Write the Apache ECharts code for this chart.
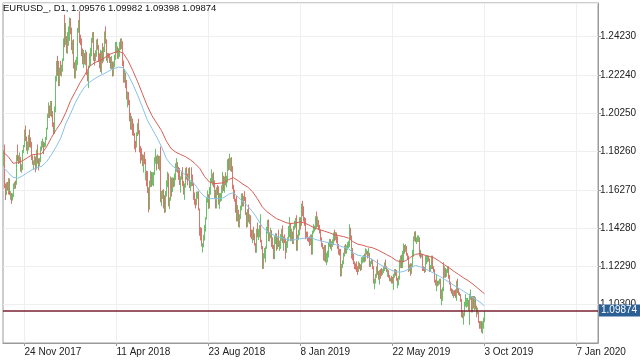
<!DOCTYPE html>
<html>
<head>
<meta charset="utf-8">
<script src="https://cdn.jsdelivr.net/npm/echarts@6/dist/echarts.min.js"></script>
<style>html,body{margin:0;padding:0;background:#fff;}#c{width:640px;height:360px;}</style>
</head>
<body>
<div id="c"></div>
<script>
// EURUSD daily bars, 25 Oct 2017 .. 3 Oct 2019 (bar index 0..502)
const firstOpen = 1.1762;
const closes = [
1.1813,1.1652,1.1608,1.1650,1.1645,1.1620,1.1658,1.1607,1.1610,1.1589,
1.1592,1.1652,1.1664,1.1663,1.1795,1.1792,1.1770,1.1790,1.1736,1.1736,
1.1825,1.1853,1.1932,1.1897,1.1845,1.1845,1.1903,1.1895,1.1866,1.1822,
1.1797,1.1771,1.1772,1.1784,1.1743,1.1824,1.1777,1.1750,1.1782,1.1840,
1.1870,1.1873,1.1856,1.1862,1.1889,1.1944,1.2005,1.2059,1.2016,1.2067,
1.2030,1.1967,1.1937,1.1947,1.2032,1.2199,1.2263,1.2262,1.2186,1.2238,
1.2222,1.2262,1.2298,1.2408,1.2396,1.2426,1.2383,1.2412,1.2414,1.2512,
1.2462,1.2367,1.2377,1.2265,1.2252,1.2252,1.2292,1.2353,1.2449,1.2505,
1.2407,1.2406,1.2338,1.2285,1.2325,1.2297,1.2318,1.2232,1.2194,1.2270,
1.2317,1.2335,1.2405,1.2410,1.2311,1.2310,1.2335,1.2390,1.2368,1.2303,
1.2290,1.2336,1.2240,1.2340,1.2300,1.2354,1.2443,1.2400,1.2310,1.2323,
1.2320,1.2303,1.2271,1.2276,1.2237,1.2281,1.2318,1.2356,1.2367,1.2325,
1.2330,1.2385,1.2372,1.2373,1.2348,1.2288,1.2210,1.2232,1.2165,1.2100,
1.2130,1.2078,1.1992,1.1951,1.1988,1.1960,1.1922,1.1864,1.1849,1.1917,
1.1940,1.1927,1.1836,1.1808,1.1797,1.1767,1.1792,1.1780,1.1696,1.1722,
1.1656,1.1626,1.1535,1.1665,1.1693,1.1658,1.1693,1.1718,1.1774,1.1800,
1.1767,1.1785,1.1745,1.1793,1.1570,1.1609,1.1624,1.1573,1.1570,1.1599,
1.1655,1.1705,1.1657,1.1553,1.1570,1.1684,1.1637,1.1657,1.1655,1.1689,
1.1748,1.1749,1.1742,1.1740,1.1670,1.1684,1.1710,1.1658,1.1640,1.1640,
1.1718,1.1694,1.1684,1.1729,1.1644,1.1658,1.1707,1.1691,1.1658,1.1586,
1.1568,1.1553,1.1599,1.1610,1.1526,1.1410,1.1408,1.1345,1.1345,1.1375,
1.1437,1.1480,1.1570,1.1596,1.1539,1.1620,1.1680,1.1700,1.1705,1.1670,
1.1600,1.1620,1.1585,1.1628,1.1625,1.1555,1.1595,1.1600,1.1625,1.1690,
1.1627,1.1685,1.1665,1.1672,1.1778,1.1747,1.1748,1.1765,1.1738,1.1640,
1.1604,1.1577,1.1545,1.1475,1.1512,1.1523,1.1490,1.1490,1.1525,1.1593,
1.1560,1.1580,1.1578,1.1500,1.1450,1.1513,1.1467,1.1473,1.1390,1.1375,
1.1403,1.1373,1.1345,1.1312,1.1408,1.1387,1.1407,1.1428,1.1430,1.1362,
1.1335,1.1230,1.1288,1.1310,1.1327,1.1415,1.1456,1.1370,1.1390,1.1403,
1.1335,1.1330,1.1290,1.1370,1.1394,1.1318,1.1350,1.1340,1.1340,1.1375,
1.1380,1.1355,1.1318,1.1370,1.1365,1.1305,1.1347,1.1363,1.1380,1.1445,
1.1370,1.1400,1.1353,1.1435,1.1440,1.1467,1.1345,1.1392,1.1395,1.1475,
1.1443,1.1540,1.1500,1.1470,1.1468,1.1410,1.1395,1.1390,1.1365,1.1363,
1.1360,1.1385,1.1300,1.1410,1.1430,1.1430,1.1480,1.1445,1.1455,1.1437,
1.1406,1.1365,1.1340,1.1325,1.1275,1.1327,1.1260,1.1295,1.1295,1.1310,
1.1340,1.1345,1.1335,1.1335,1.1360,1.1395,1.1370,1.1370,1.1365,1.1340,
1.1308,1.1307,1.1193,1.1235,1.1247,1.1288,1.1330,1.1305,1.1325,1.1340,
1.1350,1.1415,1.1375,1.1300,1.1312,1.1265,1.1250,1.1220,1.1217,1.1215,
1.1205,1.1235,1.1224,1.1217,1.1263,1.1263,1.1275,1.1255,1.1300,1.1305,
1.1285,1.1295,1.1235,1.1245,1.1258,1.1225,1.1150,1.1132,1.1148,1.1183,
1.1215,1.1195,1.1172,1.1200,1.1195,1.1190,1.1195,1.1215,1.1235,1.1225,
1.1205,1.1205,1.1175,1.1157,1.1165,1.1160,1.1150,1.1180,1.1205,1.1192,
1.1160,1.1130,1.1132,1.1170,1.1240,1.1255,1.1225,1.1275,1.1330,1.1312,
1.1325,1.1290,1.1275,1.1210,1.1225,1.1195,1.1230,1.1290,1.1370,1.1400,
1.1365,1.1367,1.1371,1.1373,1.1287,1.1289,1.1282,1.1284,1.1225,1.1213,
1.1207,1.1250,1.1255,1.1270,1.1260,1.1210,1.1225,1.1275,1.1220,1.1210,
1.1150,1.1140,1.1145,1.1130,1.1145,1.1155,1.1075,1.1085,1.1110,1.1200,
1.1195,1.1200,1.1180,1.1205,1.1215,1.1172,1.1140,1.1105,1.1090,1.1080,
1.1100,1.1085,1.1075,1.1145,1.1100,1.1090,1.1080,1.1055,1.0985,1.0965,
1.0970,1.1035,1.1035,1.1025,1.1045,1.1045,1.1010,1.1065,1.1075,1.1000,
1.1070,1.1030,1.1040,1.1015,1.0990,1.0990,1.0940,1.0920,1.0940,1.0898,
1.0933,1.09576,1.09874];
const highs = [
1.1833,1.1862,1.1660,1.1666,1.1668,1.1669,1.1688,1.1686,1.1620,1.1605,
1.1608,1.1660,1.1668,1.1675,1.1808,1.1862,1.1806,1.1821,1.1798,1.1760,
1.1834,1.1860,1.1940,1.1961,1.1904,1.1878,1.1912,1.1940,1.1900,1.1876,
1.1837,1.1806,1.1780,1.1805,1.1800,1.1836,1.1862,1.1790,1.1793,1.1852,
1.1880,1.1894,1.1877,1.1873,1.1902,1.1950,1.2023,1.2081,1.2065,1.2089,
1.2088,1.2036,1.1978,1.2011,1.2060,1.2219,1.2297,1.2323,1.2297,1.2262,
1.2297,1.2277,1.2310,1.2414,1.2537,1.2494,1.2420,1.2446,1.2476,1.2522,
1.2519,1.2470,1.2404,1.2409,1.2290,1.2302,1.2318,1.2372,1.2468,1.2510,
1.2555,1.2433,1.2413,1.2361,1.2353,1.2337,1.2354,1.2344,1.2243,1.2273,
1.2336,1.2365,1.2416,1.2446,1.2447,1.2337,1.2352,1.2408,1.2413,1.2380,
1.2336,1.2355,1.2342,1.2350,1.2389,1.2370,1.2450,1.2476,1.2409,1.2339,
1.2337,1.2335,1.2317,1.2322,1.2293,1.2294,1.2329,1.2395,1.2396,1.2372,
1.2363,1.2396,1.2413,1.2414,1.2399,1.2365,1.2299,1.2254,1.2236,1.2198,
1.2138,1.2135,1.2094,1.2027,1.2010,1.1997,1.1972,1.1923,1.1881,1.1926,
1.1973,1.1996,1.1937,1.1854,1.1843,1.1812,1.1809,1.1824,1.1787,1.1751,
1.1726,1.1724,1.1640,1.1675,1.1726,1.1719,1.1718,1.1720,1.1796,1.1840,
1.1804,1.1811,1.1805,1.1803,1.1852,1.1621,1.1626,1.1630,1.1599,1.1620,
1.1676,1.1721,1.1712,1.1674,1.1588,1.1697,1.1690,1.1692,1.1690,1.1712,
1.1765,1.1791,1.1771,1.1746,1.1722,1.1697,1.1723,1.1745,1.1673,1.1660,
1.1740,1.1745,1.1711,1.1740,1.1744,1.1671,1.1720,1.1744,1.1706,1.1666,
1.1613,1.1580,1.1617,1.1619,1.1619,1.1530,1.1433,1.1430,1.1349,1.1393,
1.1445,1.1484,1.1584,1.1623,1.1604,1.1641,1.1688,1.1733,1.1712,1.1719,
1.1676,1.1630,1.1627,1.1640,1.1652,1.1645,1.1610,1.1610,1.1650,1.1720,
1.1700,1.1696,1.1718,1.1700,1.1786,1.1790,1.1815,1.1793,1.1797,1.1750,
1.1653,1.1628,1.1581,1.1594,1.1521,1.1548,1.1515,1.1500,1.1545,1.1608,
1.1609,1.1595,1.1620,1.1590,1.1511,1.1527,1.1550,1.1500,1.1495,1.1420,
1.1420,1.1435,1.1400,1.1350,1.1424,1.1456,1.1423,1.1443,1.1500,1.1446,
1.1367,1.1335,1.1298,1.1325,1.1333,1.1435,1.1470,1.1473,1.1407,1.1430,
1.1417,1.1380,1.1340,1.1387,1.1402,1.1400,1.1380,1.1420,1.1363,1.1397,
1.1424,1.1442,1.1383,1.1385,1.1395,1.1375,1.1360,1.1380,1.1439,1.1486,
1.1455,1.1425,1.1410,1.1440,1.1466,1.1480,1.1495,1.1395,1.1420,1.1484,
1.1485,1.1555,1.1570,1.1541,1.1485,1.1480,1.1425,1.1410,1.1410,1.1380,
1.1385,1.1395,1.1395,1.1415,1.1448,1.1440,1.1490,1.1514,1.1488,1.1470,
1.1445,1.1420,1.1380,1.1350,1.1330,1.1340,1.1340,1.1300,1.1310,1.1320,
1.1355,1.1372,1.1370,1.1360,1.1370,1.1405,1.1420,1.1408,1.1405,1.1385,
1.1345,1.1320,1.1320,1.1242,1.1260,1.1300,1.1338,1.1345,1.1338,1.1355,
1.1362,1.1448,1.1430,1.1390,1.1325,1.1325,1.1295,1.1255,1.1245,1.1255,
1.1230,1.1255,1.1248,1.1240,1.1276,1.1280,1.1288,1.1295,1.1323,1.1318,
1.1310,1.1324,1.1300,1.1256,1.1268,1.1265,1.1230,1.1165,1.1160,1.1190,
1.1230,1.1265,1.1205,1.1210,1.1215,1.1220,1.1215,1.1230,1.1250,1.1265,
1.1230,1.1215,1.1210,1.1185,1.1170,1.1180,1.1175,1.1190,1.1215,1.1215,
1.1210,1.1170,1.1150,1.1180,1.1265,1.1285,1.1290,1.1310,1.1348,1.1340,
1.1345,1.1335,1.1298,1.1285,1.1240,1.1245,1.1245,1.1315,1.1385,1.1410,
1.1412,1.1380,1.1390,1.1390,1.1380,1.1315,1.1300,1.1295,1.1290,1.1230,
1.1225,1.1285,1.1285,1.1285,1.1285,1.1270,1.1235,1.1285,1.1285,1.1230,
1.1215,1.1160,1.1190,1.1155,1.1155,1.1165,1.1165,1.1110,1.1120,1.1215,
1.1250,1.1230,1.1220,1.1215,1.1230,1.1230,1.1185,1.1150,1.1115,1.1110,
1.1105,1.1105,1.1110,1.1155,1.1165,1.1115,1.1095,1.1085,1.1060,1.0995,
1.0990,1.1045,1.1085,1.1055,1.1065,1.1065,1.1055,1.1087,1.1109,1.1065,
1.1075,1.1075,1.1075,1.1068,1.1025,1.1015,1.0995,1.0945,1.0945,1.0945,
1.0943,1.0963,1.09982];
const lows = [
1.1750,1.1636,1.1574,1.1600,1.1623,1.1603,1.1617,1.1599,1.1575,1.1554,
1.1571,1.1589,1.1631,1.1633,1.1653,1.1775,1.1761,1.1765,1.1722,1.1715,
1.1730,1.1818,1.1848,1.1880,1.1830,1.1812,1.1832,1.1848,1.1846,1.1816,
1.1781,1.1757,1.1730,1.1755,1.1718,1.1733,1.1763,1.1728,1.1750,1.1770,
1.1830,1.1846,1.1812,1.1848,1.1851,1.1886,1.1940,1.2000,1.2000,1.2010,
1.2004,1.1954,1.1916,1.1918,1.1934,1.2030,1.2190,1.2219,1.2165,1.2166,
1.2220,1.2215,1.2240,1.2297,1.2368,1.2380,1.2337,1.2334,1.2375,1.2401,
1.2435,1.2353,1.2332,1.2257,1.2206,1.2206,1.2246,1.2281,1.2275,1.2443,
1.2389,1.2379,1.2321,1.2279,1.2260,1.2279,1.2274,1.2224,1.2191,1.2155,
1.2262,1.2274,1.2321,1.2390,1.2297,1.2273,1.2296,1.2318,1.2354,1.2292,
1.2258,1.2260,1.2239,1.2230,1.2284,1.2293,1.2343,1.2386,1.2297,1.2286,
1.2310,1.2286,1.2256,1.2254,1.2215,1.2218,1.2264,1.2302,1.2337,1.2308,
1.2307,1.2318,1.2354,1.2358,1.2330,1.2270,1.2184,1.2183,1.2155,1.2096,
1.2055,1.2067,1.1983,1.1940,1.1938,1.1910,1.1907,1.1838,1.1822,1.1847,
1.1906,1.1915,1.1821,1.1763,1.1779,1.1750,1.1717,1.1760,1.1676,1.1678,
1.1645,1.1610,1.1510,1.1524,1.1640,1.1642,1.1650,1.1645,1.1703,1.1763,
1.1728,1.1760,1.1735,1.1727,1.1562,1.1542,1.1579,1.1530,1.1507,1.1509,
1.1592,1.1640,1.1637,1.1541,1.1527,1.1570,1.1591,1.1615,1.1640,1.1644,
1.1677,1.1721,1.1715,1.1679,1.1652,1.1612,1.1680,1.1647,1.1602,1.1575,
1.1638,1.1680,1.1650,1.1674,1.1636,1.1620,1.1645,1.1686,1.1647,1.1575,
1.1549,1.1530,1.1546,1.1580,1.1520,1.1388,1.1364,1.1332,1.1301,1.1328,
1.1363,1.1410,1.1472,1.1560,1.1528,1.1530,1.1602,1.1663,1.1650,1.1640,
1.1585,1.1580,1.1530,1.1530,1.1600,1.1550,1.1528,1.1564,1.1570,1.1610,
1.1620,1.1612,1.1650,1.1640,1.1665,1.1727,1.1730,1.1723,1.1720,1.1630,
1.1580,1.1565,1.1508,1.1463,1.1463,1.1483,1.1433,1.1430,1.1475,1.1520,
1.1540,1.1540,1.1568,1.1496,1.1430,1.1433,1.1458,1.1450,1.1380,1.1370,
1.1350,1.1365,1.1337,1.1300,1.1300,1.1380,1.1366,1.1380,1.1410,1.1353,
1.1318,1.1216,1.1216,1.1270,1.1250,1.1320,1.1400,1.1360,1.1358,1.1375,
1.1330,1.1320,1.1267,1.1267,1.1345,1.1310,1.1322,1.1330,1.1310,1.1320,
1.1362,1.1350,1.1310,1.1316,1.1350,1.1268,1.1300,1.1325,1.1360,1.1380,
1.1360,1.1360,1.1345,1.1345,1.1420,1.1430,1.1310,1.1310,1.1365,1.1390,
1.1420,1.1440,1.1490,1.1462,1.1440,1.1397,1.1370,1.1375,1.1360,1.1355,
1.1335,1.1340,1.1290,1.1290,1.1400,1.1410,1.1420,1.1430,1.1433,1.1420,
1.1400,1.1360,1.1330,1.1320,1.1260,1.1255,1.1250,1.1235,1.1250,1.1275,
1.1290,1.1330,1.1320,1.1310,1.1330,1.1340,1.1360,1.1365,1.1350,1.1320,
1.1290,1.1285,1.1176,1.1178,1.1220,1.1240,1.1280,1.1295,1.1295,1.1315,
1.1325,1.1330,1.1370,1.1270,1.1285,1.1260,1.1240,1.1215,1.1212,1.1200,
1.1185,1.1200,1.1215,1.1205,1.1210,1.1245,1.1250,1.1250,1.1260,1.1290,
1.1270,1.1280,1.1226,1.1225,1.1240,1.1215,1.1140,1.1120,1.1110,1.1140,
1.1170,1.1185,1.1160,1.1135,1.1165,1.1180,1.1185,1.1195,1.1205,1.1215,
1.1200,1.1175,1.1170,1.1152,1.1150,1.1140,1.1140,1.1107,1.1170,1.1180,
1.1155,1.1125,1.1115,1.1130,1.1160,1.1220,1.1220,1.1220,1.1250,1.1295,
1.1305,1.1285,1.1265,1.1200,1.1205,1.1180,1.1190,1.1225,1.1280,1.1360,
1.1355,1.1345,1.1355,1.1355,1.1280,1.1275,1.1270,1.1275,1.1205,1.1205,
1.1195,1.1200,1.1240,1.1250,1.1255,1.1200,1.1200,1.1215,1.1215,1.1200,
1.1145,1.1130,1.1100,1.1125,1.1135,1.1135,1.1060,1.1027,1.1050,1.1100,
1.1170,1.1170,1.1170,1.1175,1.1195,1.1165,1.1135,1.1100,1.1087,1.1075,
1.1065,1.1075,1.1065,1.1050,1.1090,1.1080,1.1075,1.1045,1.0965,1.0960,
1.0926,1.0970,1.1020,1.1015,1.1020,1.1020,1.1000,1.0925,1.1055,1.0990,
1.0990,1.1010,1.1000,1.1005,1.0965,1.0980,1.0935,1.0905,1.0905,1.0885,
1.0879,1.0905,1.09398];

// Indicator lines, one value every 5 bars (bars 0,5,...,500, then 502)
const maRed = [
1.1822,1.1799,1.1765,1.1768,1.1778,1.1794,1.1809,1.1812,1.1815,1.1851,
1.1898,1.1939,1.1976,1.2028,1.2090,1.2137,1.2184,1.2225,1.2269,1.2287,
1.2298,1.2311,1.2329,1.2339,1.2347,1.2337,1.2298,1.2246,1.2189,1.2126,
1.2064,1.2012,1.1973,1.1934,1.1880,1.1841,1.1822,1.1810,1.1799,1.1783,
1.1763,1.1737,1.1695,1.1667,1.1659,1.1661,1.1664,1.1680,1.1690,1.1674,
1.1656,1.1641,1.1617,1.1581,1.1539,1.1513,1.1495,1.1477,1.1467,1.1456,
1.1451,1.1456,1.1460,1.1453,1.1441,1.1428,1.1420,1.1412,1.1404,1.1394,
1.1389,1.1384,1.1376,1.1357,1.1344,1.1339,1.1331,1.1326,1.1316,1.1303,
1.1290,1.1277,1.1259,1.1252,1.1259,1.1277,1.1292,1.1295,1.1287,1.1280,
1.1272,1.1256,1.1238,1.1222,1.1204,1.1187,1.1170,1.1155,1.1137,1.1116,
1.1095,1.1087];
const maBlue = [
1.1742,1.1716,1.1692,1.1687,1.1700,1.1716,1.1731,1.1742,1.1750,1.1773,
1.1809,1.1851,1.1898,1.1970,1.2022,1.2080,1.2126,1.2163,1.2186,1.2204,
1.2218,1.2230,1.2244,1.2256,1.2265,1.2261,1.2225,1.2176,1.2119,1.2056,
1.1991,1.1945,1.1900,1.1851,1.1789,1.1757,1.1737,1.1727,1.1703,1.1674,
1.1654,1.1617,1.1591,1.1581,1.1581,1.1581,1.1586,1.1604,1.1612,1.1589,
1.1565,1.1542,1.1513,1.1477,1.1435,1.1412,1.1396,1.1386,1.1378,1.1370,
1.1365,1.1368,1.1373,1.1376,1.1381,1.1370,1.1363,1.1357,1.1352,1.1344,
1.1337,1.1329,1.1321,1.1300,1.1287,1.1282,1.1279,1.1264,1.1248,1.1233,
1.1222,1.1209,1.1200,1.1200,1.1207,1.1222,1.1234,1.1227,1.1217,1.1205,
1.1191,1.1178,1.1163,1.1147,1.1131,1.1116,1.1100,1.1085,1.1066,1.1051,
1.1033,1.1023];

const tickIdx = [22, 118, 214, 310, 406, 502, 598];
const tickLabels = ['24 Nov 2017', '11 Apr 2018', '23 Aug 2018', '8 Jan 2019', '22 May 2019', '3 Oct 2019', '7 Jan 2020'];
const totalSlots = 621;
const lastPrice = 1.09874;
const titleText = 'EURUSD_, D1, 1.09576 1.09982 1.09398 1.09874';

// ---- build ----
const labelMap = {};
tickIdx.forEach((k, j) => labelMap[k] = tickLabels[j]);
const cats = [];
for (let i = 0; i < totalSlots; i++) cats.push(String(i));
const isTick = (i) => labelMap[i] !== undefined;

const candles = closes.map((c, i) => {
  const o = i === 0 ? firstOpen : closes[i - 1];
  const h = Math.max(highs[i], o, c);
  const l = Math.min(lows[i], o, c);
  return [o, c, l, h];
});
const maIdx = [];
for (let i = 0; i <= 500; i += 5) maIdx.push(i);
maIdx.push(502);
const redData = maIdx.map((k, j) => [k, maRed[j]]);
const blueData = maIdx.map((k, j) => [k, maBlue[j]]);

const font = 'Liberation Sans, Arial, sans-serif';
const bull = '#6cc06c', bear = '#d8776e';
const chart = echarts.init(document.getElementById('c'), null, {renderer: 'canvas'});
chart.setOption({
  animation: false,
  backgroundColor: '#ffffff',
  title: {
    text: titleText, left: 3, top: 3, padding: 0,
    textStyle: {fontSize: 9.5, fontWeight: 'normal', color: '#111', fontFamily: font}
  },
  grid: {left: 3, right: 42, top: 3, bottom: 17, show: true, borderColor: '#9a9a9a', borderWidth: 1, backgroundColor: 'transparent'},
  xAxis: {
    type: 'category', data: cats, boundaryGap: true,
    axisLine: {show: true, lineStyle: {color: '#9a9a9a'}},
    axisTick: {show: true, alignWithLabel: true, interval: (i) => isTick(i), length: 3, lineStyle: {color: '#9a9a9a'}},
    axisLabel: {show: true, interval: (i) => isTick(i), formatter: (v, i) => labelMap[i] || '', align: 'left', margin: 4, fontSize: 10, color: '#222', fontFamily: font},
    splitLine: {show: true, interval: (i) => isTick(i), lineStyle: {color: '#efefef', width: 1}}
  },
  yAxis: {
    type: 'value', position: 'right', scale: true,
    min: 1.0831, max: 1.25976, interval: 0.0199,
    axisLine: {show: true, lineStyle: {color: '#9a9a9a'}},
    axisTick: {show: true, length: 3, lineStyle: {color: '#9a9a9a'}},
    axisLabel: {show: true, showMinLabel: false, showMaxLabel: false, margin: 2, fontSize: 10, color: '#222', fontFamily: font,
      formatter: (v) => v.toFixed(5)},
    splitLine: {show: true, lineStyle: {color: '#efefef', width: 1}}
  },
  series: [
    {
      type: 'candlestick', name: 'EURUSD', data: candles, barWidth: 0.6,
      itemStyle: {color: bull, color0: bear, borderColor: bull, borderColor0: bear, borderWidth: 1},
      markLine: {
        silent: true, symbol: ['none', 'none'],
        lineStyle: {color: '#7a2233', width: 1.5, type: 'solid'},
        label: {show: true, position: 'end', formatter: '1.09874', distance: 1,
          backgroundColor: '#2c5f94', color: '#ffffff', fontSize: 10, fontFamily: font, padding: [1, 3, 1, 2]},
        data: [{yAxis: lastPrice}]
      }
    },
    {type: 'line', data: redData, showSymbol: false, symbol: 'none', lineStyle: {color: '#d65f58', width: 1}, z: 3},
    {type: 'line', data: blueData, showSymbol: false, symbol: 'none', lineStyle: {color: '#88c2e8', width: 1}, z: 3}
  ]
});
</script>
</body>
</html>
